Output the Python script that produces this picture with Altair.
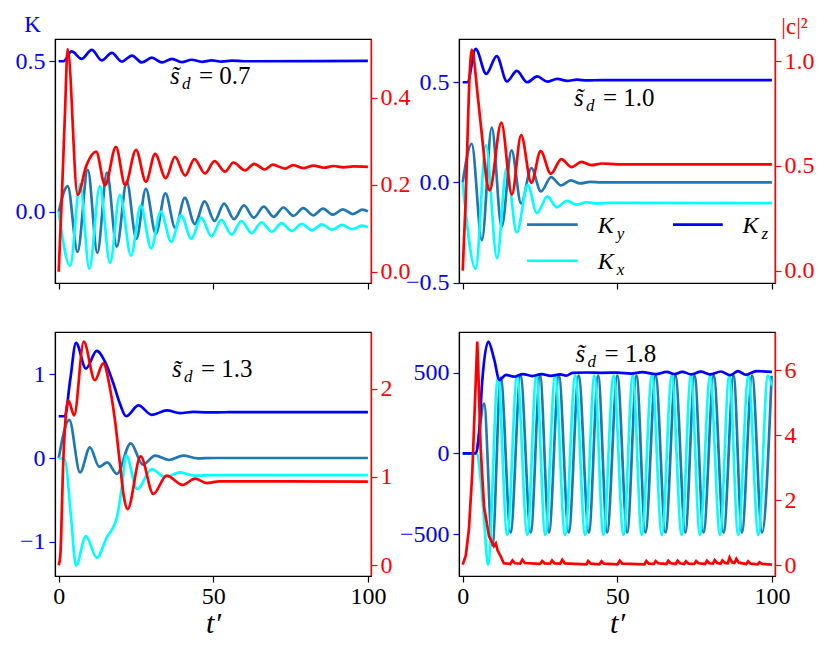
import altair as alt
import pandas as pd

# ---------------- data (t', value) ----------------
# panel (a)  s_d = 0.7
a_ky = [(0, 0), (2.9, 0.085), (6.1, -0.134), (9.4, 0.140), (12.5, -0.137), (15.6, 0.130), (18.8, -0.116),
        (22.0, 0.100), (25.1, -0.090), (28.2, 0.076), (31.4, -0.073), (34.5, 0.061), (37.7, -0.054),
        (40.8, 0.046), (44.0, -0.041), (47.2, 0.034), (50.4, -0.031), (53.5, 0.027), (56.7, -0.025),
        (59.9, 0.021), (63.1, -0.020), (66.3, 0.017), (69.5, -0.017), (72.7, 0.014), (75.9, -0.014),
        (79.1, 0.012), (82.3, -0.012), (85.5, 0.010), (88.7, -0.010), (91.9, 0.008), (95.1, -0.008),
        (98.3, 0.007), (100, 0.001)]
a_kx = [(0, 0), (3.7, -0.180), (6.9, 0.092), (9.9, -0.190), (13.3, 0.085), (16.6, -0.170), (19.8, 0.056),
        (23.4, -0.146), (26.5, 0.020), (29.9, -0.122), (33.0, 0.000), (36.4, -0.100), (39.6, -0.012),
        (42.9, -0.090), (46.1, -0.020), (49.4, -0.082), (52.6, -0.027), (55.9, -0.076), (59.1, -0.031),
        (62.4, -0.071), (65.6, -0.035), (68.9, -0.067), (72.1, -0.038), (75.4, -0.064), (78.6, -0.040),
        (81.9, -0.062), (85.1, -0.042), (88.4, -0.060), (91.6, -0.044), (94.9, -0.058), (98.1, -0.046),
        (100, -0.051)]
a_kz = [(0, 0.5), (1.5, 0.5), (4.2, 0.533), (7.4, 0.508), (10.7, 0.538), (13.9, 0.503), (17.2, 0.528),
        (20.4, 0.499), (23.7, 0.519), (26.9, 0.496), (30.1, 0.512), (33.4, 0.496), (36.6, 0.508),
        (39.8, 0.497), (43.0, 0.505), (46.3, 0.498), (49.5, 0.503), (52.7, 0.499), (56.0, 0.502),
        (60.0, 0.500), (100, 0.501)]
a_c = [(0, 0), (1.0, 0.17), (2.0, 0.36), (2.9, 0.512), (6.1, 0.177), (9.0, 0.245), (12.1, 0.276),
       (15.0, 0.199), (18.5, 0.287), (21.5, 0.199), (25.0, 0.280), (28.2, 0.207), (31.2, 0.271),
       (34.6, 0.215), (37.6, 0.264), (40.9, 0.221), (43.9, 0.259), (47.3, 0.226), (50.4, 0.254),
       (53.8, 0.230), (56.5, 0.251), (60.3, 0.233), (63.2, 0.248), (66.7, 0.235), (69.2, 0.246),
       (73.2, 0.237), (75.8, 0.245), (79.3, 0.238), (82.4, 0.244), (85.8, 0.239), (88.9, 0.243),
       (92.0, 0.240), (95.3, 0.242), (100, 0.241)]

# panel (b)  s_d = 1.0
b_ky = [(0, 0), (2.9, 0.193), (6.2, -0.288), (9.4, 0.274), (12.6, -0.222), (15.8, 0.160), (18.9, -0.105),
        (22.2, 0.072), (25.3, -0.045), (28.6, 0.027), (31.8, -0.015), (35.0, 0.010), (38.0, -0.005),
        (41.2, 0.003), (45, 0), (100, 0)]
b_kx = [(0, 0), (4.2, -0.432), (7.5, 0.185), (11.1, -0.378), (14.2, 0.072), (17.5, -0.250), (21.0, -0.012),
        (24.0, -0.153), (27.4, -0.070), (30.4, -0.124), (33.7, -0.092), (36.8, -0.111), (40.0, -0.099),
        (43.2, -0.105), (48, -0.102), (100, -0.103)]
b_kz = [(0, 0.5), (1.5, 0.5), (4.2, 0.667), (7.6, 0.542), (11.0, 0.631), (14.3, 0.504), (17.5, 0.557),
        (20.8, 0.500), (24.1, 0.529), (27.3, 0.503), (30.6, 0.517), (33.8, 0.507), (37.0, 0.513),
        (40.2, 0.509), (45, 0.511), (100, 0.511)]
b_c = [(0, 0), (1.0, 0.35), (2.0, 0.85), (2.9, 1.055), (5.0, 0.814), (6.7, 0.576), (7.7, 0.433),
       (8.7, 0.383), (12.5, 0.706), (15.9, 0.363), (18.9, 0.646), (22.2, 0.419), (25.2, 0.570),
       (28.5, 0.462), (31.9, 0.532), (35.2, 0.494), (38.4, 0.519), (41.6, 0.503), (45, 0.511),
       (50, 0.507), (100, 0.507)]

# panel (c)  s_d = 1.3
c_ky = [(0, 0), (3.4, 0.457), (6.9, -0.173), (10.1, 0.127), (13.1, -0.104), (15.7, -0.053), (18.8, -0.190),
        (23.3, 0.176), (27.2, -0.080), (31.2, 0.028), (35.7, -0.024), (40.3, 0.028), (45, -0.005),
        (50, 0), (100, 0)]
c_kx = [(0, 0), (2.0, -0.02), (3.9, -0.67), (5.6, -1.286), (8.8, -0.934), (12.3, -1.194), (15.5, -0.954),
        (18.8, -0.713), (20.4, -0.353), (21.8, 0.030), (25.4, -0.373), (30.1, -0.132), (34.4, -0.231),
        (39.2, -0.172), (44, -0.210), (50, -0.205), (100, -0.205)]
c_kz = [(0, 0.5), (2.0, 0.5), (3.7, 0.93), (5.6, 1.377), (8.8, 1.07), (12.3, 1.281), (15.0, 1.15),
        (17.6, 0.90), (19.8, 0.65), (21.8, 0.50), (25.8, 0.629), (30.1, 0.516), (35.0, 0.570),
        (39.2, 0.537), (43.5, 0.552), (48, 0.546), (55, 0.548), (100, 0.548)]
c_c = [(0, 0), (0.5, 0.1), (1.5, 1.2), (3.1, 1.867), (5.0, 1.697), (8.1, 2.53), (11.7, 2.094),
       (14.4, 2.284), (16.6, 2.0), (18.2, 1.64), (19.8, 1.15), (21.1, 0.77), (22.3, 0.636),
       (26.5, 1.231), (30.6, 0.807), (34.9, 1.015), (40.1, 0.91), (44.1, 0.98), (47.9, 0.93),
       (52, 0.95), (100, 0.947)]

# panel (d)  s_d = 1.8
d_ky = [(0, 0), (4.2, 0), (6.9, 309), (9.6, -570), (12.3, 470), (15.5, -490), (18.7, 482), (22.0, -490),
        (25.0, 482), (27.9, -490), (31.1, 482), (34.3, -490), (37.5, 482), (40.8, -490), (43.8, 482),
        (46.7, -490), (50.0, 482), (53.2, -490), (56.2, 482), (59.1, -490), (62.4, 482), (65.6, -490),
        (68.8, 482), (72.0, -490), (75.0, 482), (77.9, -490), (81.2, 482), (84.4, -490), (87.6, 482),
        (90.3, -490), (93.6, 482), (96.8, -490), (99.9, 482)]
d_kx = [(0, 0), (4.5, 0), (5.8, -157), (6.9, -407), (8.2, -690), (11.4, 470), (14.4, -505), (17.6, 482),
        (20.9, -505), (23.8, 482), (26.7, -505), (29.9, 482), (33.1, -505), (36.4, 482), (39.6, -505),
        (42.6, 482), (45.5, -505), (48.8, 482), (52.0, -505), (55.0, 482), (57.9, -505), (61.2, 482),
        (64.4, -505), (67.6, 482), (70.8, -505), (73.8, 482), (76.7, -505), (80.0, 482), (83.2, -505),
        (86.2, 482), (89.1, -505), (92.4, 482), (95.6, -505), (98.7, 482), (100, 420)]
d_kz = [(0, 0), (4.2, 0), (5.3, 130), (6.3, 444), (8.3, 693), (10.1, 589), (11.9, 455), (14.0, 487),
        (16.5, 476), (19.5, 492), (22.5, 480), (25.5, 492), (28.5, 481), (31.5, 490), (33.5, 482),
        (35.5, 500), (40, 502), (45, 500), (50, 501), (54.5, 495), (58, 504), (62.5, 492), (66, 506),
        (68.5, 492), (71, 506), (74, 490), (77, 507), (80, 490), (83.5, 508), (86.5, 485), (89, 510),
        (91.5, 488), (95, 510), (100, 506)]
d_c = [(0, 0.02), (1.0, 0.3), (2.0, 1.1), (3.1, 2.85), (4.0, 5.1), (4.7, 6.88), (5.0, 6.1), (5.8, 3.6),
       (6.9, 1.8), (8.5, 0.9), (10.1, 0.59), (10.7, 0.67), (11.3, 0.45), (12.3, 0.27), (13.3, 0.06),
       (15.3, 0.04), (16.1, 0.15), (16.9, 0.06), (18.6, 0.05), (19.3, 0.17), (20.1, 0.07), (25.0, 0.04),
       (25.7, 0.13), (26.5, 0.06), (28.2, 0.05), (28.9, 0.15), (29.7, 0.06), (31.5, 0.05), (32.2, 0.17),
       (33.0, 0.06), (40.0, 0.03), (40.6, 0.13), (41.4, 0.05), (44.2, 0.03), (44.9, 0.12), (45.7, 0.05),
       (50.1, 0.03), (50.8, 0.14), (51.6, 0.05), (58.8, 0.03), (59.4, 0.13), (60.2, 0.05), (61.8, 0.04),
       (62.4, 0.13), (63.2, 0.06), (65.9, 0.04), (66.5, 0.14), (67.3, 0.06), (68.9, 0.04), (69.5, 0.14),
       (70.3, 0.06), (71.6, 0.04), (72.2, 0.12), (73.0, 0.05), (74.9, 0.04), (75.5, 0.13), (76.3, 0.06),
       (78.4, 0.04), (79.0, 0.14), (79.8, 0.06), (80.9, 0.05), (81.5, 0.16), (82.3, 0.07), (83.4, 0.05),
       (84.0, 0.15), (84.8, 0.07), (85.7, 0.06), (86.3, 0.24), (87.1, 0.09), (87.9, 0.07), (88.5, 0.2),
       (89.3, 0.08), (91.7, 0.04), (92.3, 0.12), (93.1, 0.05), (95.4, 0.03), (96.0, 0.09), (96.8, 0.04),
       (100, 0.02)]

# labels, ticks and axis ranges
sd_labels = ["0.7", "1.0", "1.3", "1.8"]
x_ticks = [0, 50, 100]
left_ticks = [[0.0, 0.5], [-0.5, 0.0, 0.5], [-1, 0, 1], [-500, 0, 500]]
left_fmt = [".1f", ".1f", "d", "d"]
right_ticks = [[0.0, 0.2, 0.4], [0.0, 0.5, 1.0], [0, 1, 2], [0, 2, 4, 6]]
right_fmt = [".1f", ".1f", "d", "d"]
left_dom = [[-0.237, 0.574], [-0.502, 0.716], [-1.412, 1.508], [-760, 753]]
right_dom = [[-0.026, 0.535], [-0.059, 1.105], [-0.122, 2.64], [-0.33, 7.17]]
x_dom = [-1.2, 101.0]
# annotation anchors (t', K) and legend placement (t', K) in the axis units
ann_t = [36.0, 36.0, 36.6, 36.5]
ann_v = [0.4245, 0.383, 0.969, 570]
leg_sub = ["y", "x", "z"]
leg_t1 = [20.8, 20.8, 68.0]
leg_t2 = [37.2, 37.2, 84.1]
leg_v = [-0.211, -0.391, -0.211]
lab_t = [43.7, 43.7, 90.5]
lab_v = [-0.252, -0.432, -0.252]

FONT = "Liberation Serif"
KY, KX, KZ, CC = "#1f77b4", "#00ffff", "#0000ff", "#ff0000"
LW = 2.7
W, H = 316, 244


def frame(pairs):
    return pd.DataFrame(pairs, columns=["t", "v"])


def xenc(bottom):
    kw = dict(values=x_ticks, format="d", labels=bottom, grid=False, tickSize=6, tickWidth=1.2,
              tickColor="black", domainColor="black", domainWidth=1.2, labelColor="black",
              labelFont=FONT, labelFontSize=24, labelPadding=2, labelFlush=False)
    if bottom:
        kw.update(title="t\u2032", titleFont=FONT, titleFontSize=30, titleFontStyle="italic",
                  titleFontWeight="normal", titlePadding=0, titleColor="black")
    else:
        kw["title"] = None
    return alt.X("t:Q", scale=alt.Scale(domain=x_dom, nice=False, zero=False), axis=alt.Axis(**kw))


def lenc(i):
    kw = dict(orient="left", values=left_ticks[i], format=left_fmt[i], grid=False, tickSize=6,
              tickWidth=1.2, tickColor=KZ, domainColor="black", domainWidth=1.2, labelColor=KZ,
              labelFont=FONT, labelFontSize=24, labelPadding=4)
    if i == 0:
        kw.update(title="K", titleAngle=0, titleColor=KZ, titleFont=FONT, titleFontSize=23,
                  titleFontWeight="normal", titleX=-23, titleY=-8, titleAlign="center",
                  titleBaseline="alphabetic")
    else:
        kw["title"] = None
    return alt.Y("v:Q", scale=alt.Scale(domain=left_dom[i], nice=False, zero=False), axis=alt.Axis(**kw))


def renc(i):
    kw = dict(orient="right", values=right_ticks[i], format=right_fmt[i], grid=False, tickSize=6,
              tickWidth=1.2, tickColor=CC, domainColor=CC, domainWidth=1.4, labelColor=CC,
              labelFont=FONT, labelFontSize=24, labelPadding=3)
    if i == 1:
        kw.update(title="|c|\u00b2", titleAngle=0, titleColor=CC, titleFont=FONT, titleFontSize=23,
                  titleFontWeight="normal", titleX=19, titleY=-6, titleAlign="center",
                  titleBaseline="alphabetic")
    else:
        kw["title"] = None
    return alt.Y("v:Q", scale=alt.Scale(domain=right_dom[i], nice=False, zero=False), axis=alt.Axis(**kw))


def panel(i, ky, kx, kz, cc, bottom, red_interp):
    x = xenc(bottom)
    y = lenc(i)
    layers = []
    for pairs, col in ((ky, KY), (kx, KX), (kz, KZ)):
        layers.append(alt.Chart(frame(pairs)).mark_line(color=col, strokeWidth=LW, interpolate="monotone")
                      .encode(x=x, y=y))
    ann = pd.DataFrame({"t": [ann_t[i]], "v": [ann_v[i]]})
    layers.append(alt.Chart(ann).mark_text(text="s\u0303", font=FONT, fontSize=25, fontStyle="italic",
                                           align="left", baseline="alphabetic", color="black")
                  .encode(x=x, y=y))
    layers.append(alt.Chart(ann).mark_text(text="d", font=FONT, fontSize=17, fontStyle="italic",
                                           align="left", baseline="alphabetic", color="black", dx=12, dy=5)
                  .encode(x=x, y=y))
    layers.append(alt.Chart(ann).mark_text(text="= " + sd_labels[i], font=FONT, fontSize=25,
                                           align="left", baseline="alphabetic", color="black", dx=29)
                  .encode(x=x, y=y))
    if i == 1:
        for k, col in enumerate((KY, KX, KZ)):
            ld = pd.DataFrame({"t": [leg_t1[k]], "t2": [leg_t2[k]], "v": [leg_v[k]]})
            layers.append(alt.Chart(ld).mark_rule(color=col, strokeWidth=LW)
                          .encode(x=x, x2="t2:Q", y=y))
            td = pd.DataFrame({"t": [lab_t[k]], "v": [lab_v[k]], "s": [leg_sub[k]]})
            layers.append(alt.Chart(td).mark_text(text="K", font=FONT, fontSize=24, fontStyle="italic",
                                                  align="left", baseline="alphabetic", color="black")
                          .encode(x=x, y=y))
            layers.append(alt.Chart(td).mark_text(font=FONT, fontSize=17, fontStyle="italic",
                                                  align="left", baseline="alphabetic", color="black",
                                                  dx=19, dy=6)
                          .encode(x=x, y=y, text="s:N"))
    left = alt.layer(*layers)
    red = alt.Chart(frame(cc)).mark_line(color=CC, strokeWidth=LW, interpolate=red_interp).encode(x=x, y=renc(i))
    return alt.layer(left, red).resolve_scale(y="independent").properties(width=W, height=H)


pa = panel(0, a_ky, a_kx, a_kz, a_c, False, "monotone")
pb = panel(1, b_ky, b_kx, b_kz, b_c, False, "monotone")
pc = panel(2, c_ky, c_kx, c_kz, c_c, True, "monotone")
pd_ = panel(3, d_ky, d_kx, d_kz, d_c, True, "linear")

chart = alt.concat(pa, pb, pc, pd_, columns=2, spacing={"row": 49, "column": 88},
                   bounds="flush").configure_view(stroke="black", strokeWidth=1.2).properties(
    background="white", padding={"left": 6, "top": 4, "right": 5, "bottom": 5})

chart.save("out.html", embed_options={"renderer": "svg", "actions": False})
